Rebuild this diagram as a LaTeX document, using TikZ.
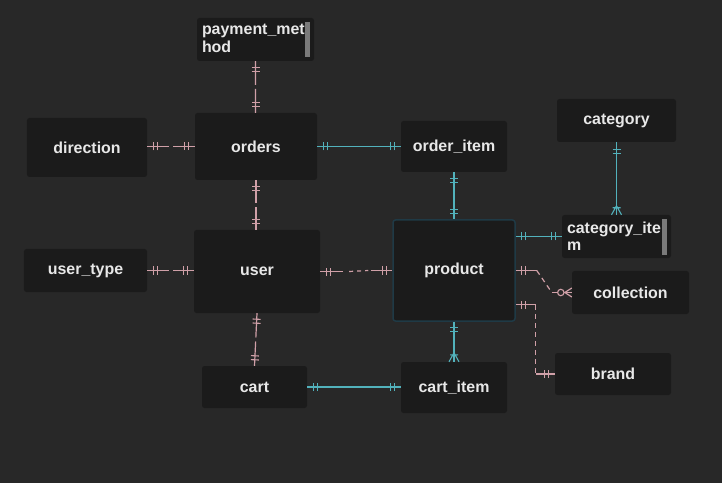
\documentclass[tikz,border=0pt]{standalone}
\usepackage{fontspec}
\setmainfont{Liberation Sans}
\usetikzlibrary{calc,decorations.markings}
\definecolor{bg}{HTML}{282828}
\definecolor{boxc}{HTML}{1B1B1B}
\definecolor{pk}{HTML}{D0A0A8}
\definecolor{tl}{HTML}{52B2BC}
\definecolor{txt}{HTML}{E8E8E8}
\definecolor{pbord}{HTML}{1F3A46}
\definecolor{scr}{HTML}{7A7A7A}
\tikzset{
  x=1bp, y=-1bp,
  ent/.style={fill=boxc, rounded corners=2.5bp, inner sep=0pt,
    font=\fontsize{16}{18}\selectfont\bfseries, text=txt},
  lbl/.style={inner sep=0pt, font=\fontsize{16}{18}\selectfont\bfseries,
    text=txt, align=left},
  pkl/.style={draw=pk, line width=1.2bp},
  tll/.style={draw=tl, line width=1.3bp},
  bs/.style={postaction={decorate, decoration={markings,
    mark=at position 6bp with {\draw[solid, draw=#1, line width=1.1bp] (0,-4bp)--(0,4bp);},
    mark=at position 10bp with {\draw[solid, draw=#1, line width=1.1bp] (0,-4bp)--(0,4bp);}}}},
  be/.style={postaction={decorate, decoration={markings,
    mark=at position -6bp with {\draw[solid, draw=#1, line width=1.1bp] (0,-4bp)--(0,4bp);},
    mark=at position -10bp with {\draw[solid, draw=#1, line width=1.1bp] (0,-4bp)--(0,4bp);}}}},
  crowend/.style={postaction={decorate, decoration={markings,
    mark=at position 1 with {\draw[solid, draw=#1, line width=1.1bp]
      (-9bp,0) -- (0,-5bp) (-9bp,0) -- (0,5bp) (-7bp,-4bp) -- (-7bp,4bp);}}}},
}
% #1, #2: named end points; #3: name for the middle
\newcommand\gapconn[3]{%
  \coordinate (#3) at ($(#1)!0.5!(#2)$);
  \coordinate (#3a) at ($(#3)!2bp!(#1)$);
  \coordinate (#3b) at ($(#3)!2bp!(#2)$);
  \draw[pkl, bs=pk] (#1) -- (#3a);
  \draw[pkl, bs=pk] (#2) -- (#3b);}
\begin{document}
\begin{tikzpicture}
\fill[bg] (0,0) rectangle (722,483);
\useasboundingbox (0,0) rectangle (722,483);

% entities
\node[ent, minimum width=117bp, minimum height=43bp] (pm) at (255.5,39.5) {};
\node[lbl, anchor=north west] (pmtext) at ($(pm.north west)+(5,6.5)$) {payment\_met\\hod};
\fill[scr] ($(pm.north east)+(-9,4)$) rectangle ($(pm.south east)+(-4,-4)$);
\node[ent, minimum width=122bp, minimum height=67bp] (orders) at (256,146.5) {orders};
\node[ent, minimum width=120bp, minimum height=59bp] (direction) at (87,147.5) {direction};
\node[ent, minimum width=106bp, minimum height=51bp] (orderitem) at (454,146.5) {order\_item};
\node[ent, minimum width=119bp, minimum height=43bp] (category) at (616.5,120.5) {category};
\node[ent, minimum width=109bp, minimum height=43bp] (catitem) at (616.5,236.5) {};
\node[lbl, anchor=north west] (catitemtext) at ($(catitem.north west)+(5,6.5)$) {category\_ite\\m};
\fill[scr] ($(catitem.north east)+(-9,4)$) rectangle ($(catitem.south east)+(-4,-3)$);
\node[ent, minimum width=123bp, minimum height=43bp] (usertype) at (85.5,270.5) {user\_type};
\node[ent, minimum width=126bp, minimum height=83bp] (user) at (257,271.5) {user};
\node[ent, draw=pbord, line width=1.5bp, minimum width=122bp, minimum height=101bp] (product) at (454,270.5) {product};
\node[ent, minimum width=117bp, minimum height=43bp] (collection) at (630.5,292.5) {collection};
\node[ent, minimum width=116bp, minimum height=42bp] (brand) at (613,374) {brand};
\node[ent, minimum width=105bp, minimum height=42bp] (cart) at (254.5,387) {cart};
\node[ent, minimum width=106bp, minimum height=51bp] (cartitem) at (454,387.5) {cart\_item};

% helper end points
\coordinate (pmS) at (pm.south);
\coordinate (ordN) at (pm.south |- orders.north);
\coordinate (ordW) at (orders.west);
\coordinate (dirE) at (orders.west -| direction.east);
\coordinate (ordS) at (orders.south);
\coordinate (usrN) at (orders.south |- user.north);
\coordinate (usrW) at (usertype.east -| user.west);
\coordinate (utE) at (usertype.east);
\coordinate (usrS) at (user.south);
\coordinate (crtN) at (cart.north);

% pink gapped connectors
\gapconn{pmS}{ordN}{m1}
\gapconn{ordW}{dirE}{m2}
\gapconn{ordS}{usrN}{m3}
\gapconn{usrW}{utE}{m4}
\gapconn{usrS}{crtN}{m5}

% user -- product
\draw[pkl, bs=pk] (user.east) -- ($(user.east)+(23,0)$);
\draw[pkl, dash pattern=on 4bp off 4bp] ($(user.east)+(29,0)$) -- ($(product.west)+(-24,0)$);
\draw[pkl, be=pk] ($(product.west)+(-21,0)$) -- (product.west);

% teal connectors
\draw[tll, bs=tl, be=tl] (orders.east) -- (orderitem.west);
\draw[tll, bs=tl, be=tl] (orderitem.south) -- (product.north);
\draw[tll, bs=tl, be=tl] (product.east |- catitem.west) -- (catitem.west);
\draw[tll, postaction={decorate, decoration={markings,
    mark=at position 7bp with {\draw[draw=tl, line width=1.1bp] (0,-4bp)--(0,4bp);},
    mark=at position 11bp with {\draw[draw=tl, line width=1.1bp] (0,-4bp)--(0,4bp);}}},
    crowend=tl] (category.south) -- (category.south |- catitem.north);
\draw[tll, bs=tl, crowend=tl] (product.south) -- (cartitem.north);
\draw[tll, bs=tl, be=tl] (cart.east) -- (cart.east -| cartitem.west);

% product -- collection
\coordinate (pc1) at ($(product.east)+(21,0)$);
\coordinate (pc2) at ($(collection.west)+(-20,0)$);
\draw[pkl, bs=pk] (product.east) -- (pc1);
\draw[pkl, dash pattern=on 5bp off 4bp] (pc1) -- (pc2);
\draw[pkl] (pc2) -- (collection.west);
\filldraw[draw=pk, fill=bg, line width=1.1bp] ($(collection.west)+(-11,0)$) circle (3.2bp);
\draw[pkl] ($(collection.west)+(-7,0)$) -- ($(collection.west)+(0,-4.5)$)
           ($(collection.west)+(-7,0)$) -- ($(collection.west)+(0,4.5)$);

% product -- brand
\coordinate (pb0) at ($(product.south east)+(0,-17)$);
\coordinate (pb1) at ($(pb0)+(20,0)$);
\coordinate (pb2) at (pb1 |- brand.west);
\draw[pkl, bs=pk] (pb0) -- (pb1);
\draw[pkl, dash pattern=on 5bp off 4bp] (pb1) -- (pb2);
\draw[pkl, be=pk] (pb2) -- (brand.west);
\end{tikzpicture}
\end{document}
